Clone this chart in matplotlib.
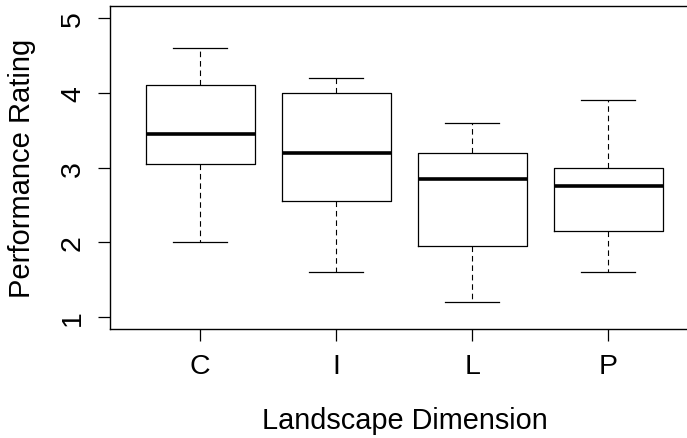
import matplotlib
matplotlib.use("Agg")
import matplotlib.pyplot as plt

categories = ["C", "I", "L", "P"]
whisker_low = [2.0, 1.6, 1.2, 1.6]
q1 = [3.05, 2.55, 1.95, 2.15]
median = [3.45, 3.2, 2.85, 2.75]
q3 = [4.1, 4.0, 3.2, 3.0]
whisker_high = [4.6, 4.2, 3.6, 3.9]
y_ticks = [1, 2, 3, 4, 5]

plt.rcParams['font.family'] = ['Liberation Sans', 'DejaVu Sans']

fig = plt.figure(figsize=(6.87, 4.39), dpi=100)
W, H = 687, 439
left, right, top, bottom = 110.3, 698.0, 7.3, 330.0
ax = fig.add_axes([left / W, 1 - bottom / H, (right - left) / W, (bottom - top) / H])

stats = []
for c, lo, a, m, b, hi in zip(categories, whisker_low, q1, median, q3, whisker_high):
    stats.append(dict(label=c, whislo=lo, q1=a, med=m, q3=b, whishi=hi, fliers=[]))

positions = list(range(1, len(categories) + 1))
ax.bxp(stats, positions=positions, widths=0.8, capwidths=0.4, showfliers=False,
       boxprops=dict(color="black", linewidth=0.9),
       medianprops=dict(color="black", linewidth=2.6, solid_capstyle="butt"),
       whiskerprops=dict(color="black", linewidth=0.8, linestyle=(0, (5, 3.5))),
       capprops=dict(color="black", linewidth=0.9))

ax.set_xlim(0.34, 4.66)
ax.set_ylim(0.84, 5.16)
ax.set_xticks(positions)
ax.set_xticklabels(categories)
ax.set_yticks(y_ticks)
ax.set_yticklabels([str(v) for v in y_ticks])
for s in ax.spines.values():
    s.set_linewidth(1.0)
ax.tick_params(axis='both', length=8.5, width=0.9, labelsize=20.5, direction='out')
ax.tick_params(axis='x', pad=9)
ax.tick_params(axis='y', pad=9, labelrotation=90)
for t in ax.get_yticklabels():
    t.set_va('center')

ax.set_xlabel("Landscape Dimension", fontsize=20.8)
ax.set_ylabel("Performance Rating", fontsize=21)
ax.xaxis.set_label_coords((405 - left) / (right - left), (bottom - 421) / (bottom - top))
ax.xaxis.label.set_va('center')
ax.yaxis.set_label_coords((22 - left) / (right - left), (bottom - 168.5) / (bottom - top))
ax.yaxis.label.set_va('center')

fig.savefig("out.png", dpi=100)
